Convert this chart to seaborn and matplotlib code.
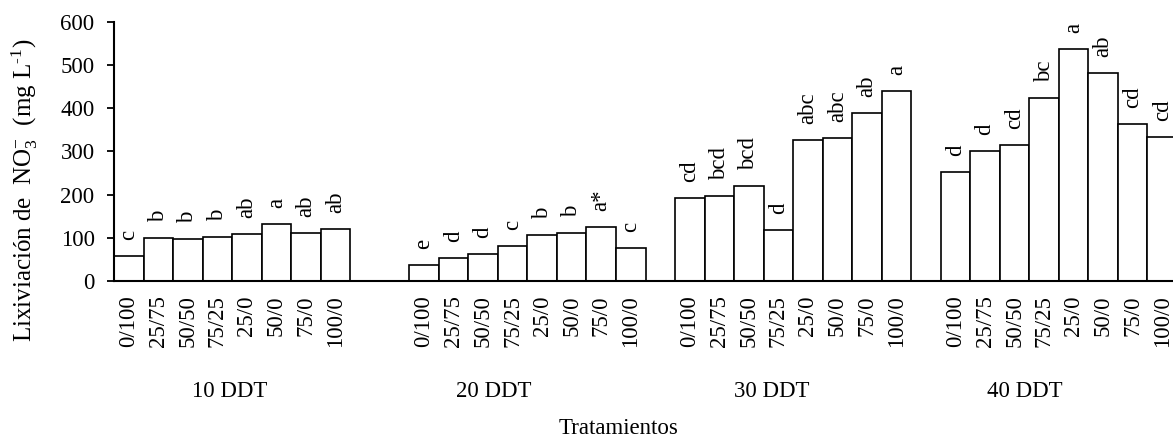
import matplotlib
matplotlib.use("Agg")
import matplotlib.pyplot as plt
import numpy as np
import pandas as pd
import seaborn as sns

# Treatments (ratio) and sampling days
treatments = ["0/100", "25/75", "50/50", "75/25", "25/0", "50/0", "75/0", "100/0"]
days = ["10 DDT", "20 DDT", "30 DDT", "40 DDT"]

# NO3- leaching (mg L-1) per day
nitrate_10 = [59, 99, 97, 101, 108, 133, 110, 120]
nitrate_20 = [37, 54, 63, 82, 106, 111, 125, 77]
nitrate_30 = [191, 197, 219, 118, 327, 331, 389, 439]
nitrate_40 = [252, 300, 314, 423, 537, 482, 363, 333]

# Mean separation letters
letters_10 = ["c", "b", "b", "b", "ab", "a", "ab", "ab"]
letters_20 = ["e", "d", "d", "c", "b", "b", "a*", "c"]
letters_30 = ["cd", "bcd", "bcd", "d", "abc", "abc", "ab", "a"]
letters_40 = ["d", "d", "cd", "bc", "a", "ab", "cd", "cd"]

# empty slots after each group (layout only)
gaps_after = [2, 1, 1, 0]
day_label_x = [3.43, 12.37, 21.78, 30.35]

values = [nitrate_10, nitrate_20, nitrate_30, nitrate_40]
letters = [letters_10, letters_20, letters_30, letters_40]

rows = []
order = []
for d, vals, lets, gap in zip(days, values, letters, gaps_after):
    for t, v, l in zip(treatments, vals, lets):
        slot = f"{d} {t}"
        order.append(slot)
        rows.append({"slot": slot, "day": d, "treatment": t, "value": v, "letter": l})
    for g in range(gap):
        order.append(f"{d} gap{g}")
df = pd.DataFrame(rows)

sns.set_style("ticks")
plt.rcParams["font.family"] = ["Liberation Serif", "DejaVu Serif"]
plt.rcParams["mathtext.fontset"] = "custom"
plt.rcParams["mathtext.rm"] = "Liberation Serif"
plt.rcParams["mathtext.it"] = "Liberation Serif:italic"
plt.rcParams["mathtext.default"] = "regular"
for key in ["text.color", "axes.labelcolor", "xtick.color", "ytick.color", "axes.edgecolor"]:
    plt.rcParams[key] = "black"
fs = 16.5

fig = plt.figure(figsize=(11.73, 4.38), dpi=100)
ax = fig.add_axes([114 / 1173, 1 - 281 / 438, 1063 / 1173, 259.3 / 438])

sns.barplot(
    data=df,
    x="slot",
    y="value",
    order=order,
    color="white",
    edgecolor="black",
    linewidth=1.2,
    width=1.0,
    errorbar=None,
    ax=ax,
)

# letters above bars
for _, r in df.iterrows():
    xpos = order.index(r["slot"])
    ax.annotate(
        r["letter"],
        (xpos, r["value"]),
        xytext=(0, 11.5),
        textcoords="offset points",
        rotation=90,
        ha="center",
        va="bottom",
        fontsize=fs,
        color="black",
    )

ax.set_xlim(-0.5, len(order) - 0.5)
ax.set_ylim(0, 600)
ax.set_yticks(np.arange(0, 601, 100))
ax.tick_params(axis="y", labelsize=fs, length=5, width=1.3, pad=9, color="black",
               labelcolor="black")

xpos_all = [order.index(s) for s in df["slot"]]
ax.set_xticks(xpos_all)
ax.set_xticklabels(df["treatment"], rotation=90, fontsize=fs, color="black")
ax.tick_params(axis="x", length=0, pad=10.5)

ax.set_xlabel("")
ax.set_ylabel("")
for side in ["top", "right"]:
    ax.spines[side].set_visible(False)
for side in ["left", "bottom"]:
    ax.spines[side].set_linewidth(1.5)
    ax.spines[side].set_color("black")

# day labels under each group
for d, x in zip(days, day_label_x):
    ax.text(x, -0.386, d, transform=ax.get_xaxis_transform(),
            ha="center", va="top", fontsize=fs, color="black")

fig.text(25 / 1173, 1 - 190 / 438, "Lixiviación de  NO$_3^{-}$  (mg L$^{\u2010 1}$)",
         rotation=90, ha="center", va="center", fontsize=18, color="black")
fig.text(619 / 1173, 4 / 438, "Tratamientos", ha="center", va="baseline",
         fontsize=fs, color="black")

fig.savefig("out.png", dpi=100)
